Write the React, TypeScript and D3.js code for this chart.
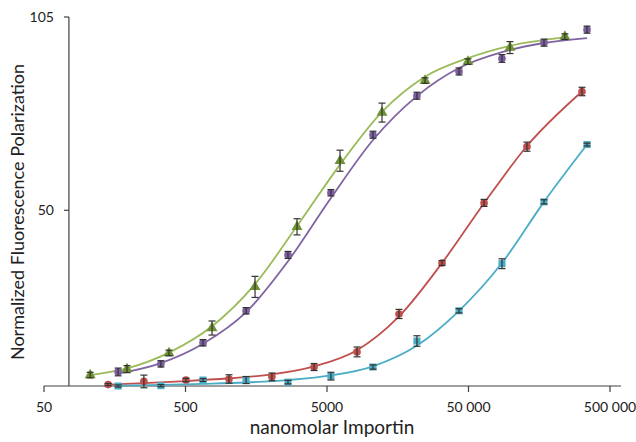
import React, { useEffect, useRef } from 'react';
import * as d3 from 'd3';

// concentrations (nM)
const greenConc = [106, 193, 382, 770, 1550, 3070, 6180, 12240, 24650, 49560, 98200, 240000];
const greenVals = [3.1, 4.8, 9.4, 16.5, 28.2, 45.3, 64.1, 77.8, 86.9, 92.3, 96.3, 99.4];
const greenErr = [0.8, 1.0, 0.8, 2.0, 3.0, 2.3, 3.0, 2.7, 0.8, 0.8, 1.7, 0.8];
const greenFit = [3.1, 5.0, 9.5, 17.0, 29.0, 45.5, 63.0, 78.0, 88.0, 93.3, 96.8, 99.2];

const purpleConc = [167, 335, 665, 1340, 2650, 5330, 10570, 21600, 42850, 86200, 170800, 344000];
const purpleVals = [4.0, 6.3, 12.3, 21.4, 37.3, 55.0, 71.5, 82.6, 89.5, 93.2, 97.7, 101.4];
const purpleErr = [1.1, 0.9, 0.9, 0.9, 1.0, 0.9, 1.0, 1.0, 1.0, 1.1, 1.0, 1.0];
const purpleFit = [3.5, 6.5, 12.0, 21.0, 35.5, 53.5, 70.0, 82.5, 90.5, 95.0, 97.6, 99.0];

const redConc = [142, 254, 504, 1015, 2040, 4050, 8150, 16140, 32500, 64400, 129500, 317000];
const redVals = [0.4, 1.3, 1.7, 2.0, 2.6, 5.4, 9.7, 20.5, 35.0, 52.1, 68.1, 83.8];
const redErr = [0.3, 1.8, 0.5, 1.2, 1.1, 1.0, 1.4, 1.3, 0.7, 1.0, 1.3, 1.2];
const redFit = [0.4, 0.8, 1.4, 2.2, 3.3, 5.6, 10.2, 19.8, 35.0, 52.0, 68.3, 83.8];

const cyanConc = [167, 335, 665, 1340, 2650, 5330, 10570, 21600, 42850, 86200, 170800, 344000];
const cyanVals = [0.0, 0.1, 1.7, 1.7, 1.1, 2.8, 5.4, 12.8, 21.4, 34.8, 52.4, 68.7];
const cyanErr = [0.3, 0.3, 0.4, 1.0, 0.5, 1.1, 0.6, 1.5, 0.6, 1.4, 0.6, 0.4];
const cyanFit = [0.1, 0.3, 0.6, 1.0, 1.7, 3.0, 5.6, 11.5, 21.4, 35.0, 52.4, 68.7];

const xTicks = [50, 500, 5000, 50000, 500000];
const xTickLabels = ['50', '500', '5000', '50 000', '500 000'];
const yTicks = [50, 105];

const series = [
    { conc: purpleConc, vals: purpleVals, err: purpleErr, fit: purpleFit, line: '#8064A2', fill: '#7D5FA0', shape: d3.symbolCircle, size: 46 },
    { conc: greenConc, vals: greenVals, err: greenErr, fit: greenFit, line: '#9BBB59', fill: '#6E9234', shape: d3.symbolTriangle, size: 52 },
    { conc: redConc, vals: redVals, err: redErr, fit: redFit, line: '#C0504D', fill: '#C0504D', shape: d3.symbolCircle, size: 46 },
    { conc: cyanConc, vals: cyanVals, err: cyanErr, fit: cyanFit, line: '#4BACC6', fill: '#4BACC6', shape: d3.symbolSquare, size: 50 },
];

const FONT = 'Lato, "Open Sans", sans-serif';

const App = () => {
    const svgRef = useRef<SVGSVGElement>(null);

    useEffect(() => {
        const svg = d3.select(svgRef.current);
        svg.selectAll('*').remove();

        const x = d3.scaleLog().domain([50, 598000]).range([44, 621]);
        const y = d3.scaleLinear().domain([0, 105]).range([386, 17]);
        const axisX = x(75);
        const axisColor = '#404040';

        // x axis
        const gx = svg.append('g').attr('transform', `translate(0,${y(0)})`);
        gx.append('line').attr('x1', 44).attr('x2', 621).attr('stroke', axisColor).attr('stroke-width', 1.2);
        xTicks.forEach((t, i) => {
            gx.append('line').attr('x1', x(t)).attr('x2', x(t)).attr('y1', 0).attr('y2', 6)
                .attr('stroke', axisColor).attr('stroke-width', 1.2);
            gx.append('text').attr('x', x(t)).attr('y', 26).attr('text-anchor', 'middle')
                .attr('font-family', FONT).attr('font-size', 14).attr('fill', '#222')
                .text(xTickLabels[i]);
        });

        // y axis
        const gy = svg.append('g').attr('transform', `translate(${axisX},0)`);
        gy.append('line').attr('y1', y(105)).attr('y2', y(0)).attr('stroke', axisColor).attr('stroke-width', 1.2);
        yTicks.forEach(t => {
            gy.append('line').attr('x1', -5).attr('x2', 0).attr('y1', y(t)).attr('y2', y(t))
                .attr('stroke', axisColor).attr('stroke-width', 1.2);
            gy.append('text').attr('x', -15).attr('y', y(t)).attr('dy', '0.35em').attr('text-anchor', 'end')
                .attr('font-family', FONT).attr('font-size', 14).attr('fill', '#222')
                .text(t);
        });

        // axis titles
        svg.append('text').attr('x', 332).attr('y', 434).attr('text-anchor', 'middle')
            .attr('font-family', FONT).attr('font-size', 19).attr('fill', '#222')
            .text('nanomolar Importin');
        svg.append('text').attr('transform', 'translate(24,212) rotate(-90)').attr('text-anchor', 'middle')
            .attr('font-family', FONT).attr('font-size', 18).attr('fill', '#222')
            .text('Normalized Fluorescence Polarization');

        // fitted curves
        series.forEach(s => {
            const line = d3.line<number>()
                .x((_, i) => x(s.conc[i]))
                .y(d => y(d))
                .curve(d3.curveMonotoneX);
            svg.append('path').datum(s.fit).attr('fill', 'none')
                .attr('stroke', s.line).attr('stroke-width', 1.8).attr('d', line);
        });

        // markers + error bars
        series.forEach(s => {
            const sym = d3.symbol().type(s.shape).size(s.size);
            s.vals.forEach((v, i) => {
                const cx = x(s.conc[i]);
                const cy = y(v);
                svg.append('path').attr('d', sym()).attr('transform', `translate(${cx},${cy})`)
                    .attr('fill', s.fill);
                const top = y(v + s.err[i]);
                const bot = y(v - s.err[i]);
                const g = svg.append('g').attr('stroke', '#333').attr('stroke-width', 1.2);
                g.append('line').attr('x1', cx).attr('x2', cx).attr('y1', top).attr('y2', bot);
                g.append('line').attr('x1', cx - 3.5).attr('x2', cx + 3.5).attr('y1', top).attr('y2', top);
                g.append('line').attr('x1', cx - 3.5).attr('x2', cx + 3.5).attr('y1', bot).attr('y2', bot);
            });
        });
    }, []);

    return (
        <svg ref={svgRef} width={636} height={442}
            style={{ position: 'absolute', left: 0, top: 0, background: '#fff' }} />
    );
};

export default App;
